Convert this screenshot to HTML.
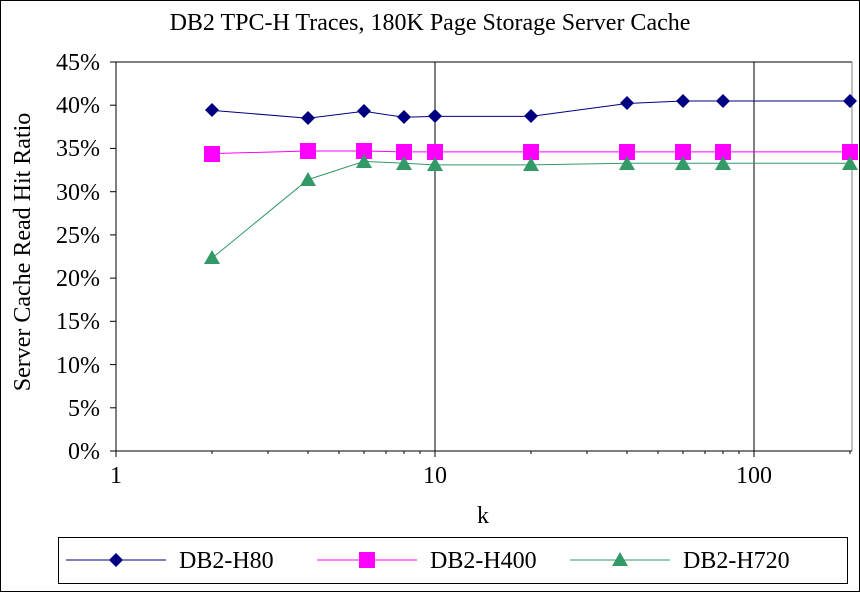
<!DOCTYPE html>
<html><head><style>body{margin:0;background:#fff}svg{display:block}</style></head><body>
<svg width="860" height="592" xmlns="http://www.w3.org/2000/svg" font-family="Liberation Serif, serif">
<rect x="0.5" y="0.5" width="859" height="591" fill="#fff" stroke="#000"/>
<text x="430" y="30" font-size="24" text-anchor="middle">DB2 TPC-H Traces, 180K Page Storage Server Cache</text>
<line x1="116" y1="62" x2="852" y2="62" stroke="#808080" stroke-width="2"/>
<line x1="852" y1="62" x2="852" y2="451" stroke="#808080" stroke-width="1"/>
<line x1="435" y1="62" x2="435" y2="451" stroke="#000"/>
<line x1="754" y1="62" x2="754" y2="451" stroke="#000"/>
<g stroke="#000">
<line x1="116" y1="62" x2="116" y2="452"/>
<line x1="110" y1="451" x2="852" y2="451"/>
<line x1="110" y1="62" x2="116" y2="62"/><line x1="110" y1="105.2" x2="116" y2="105.2"/><line x1="110" y1="148.4" x2="116" y2="148.4"/><line x1="110" y1="191.7" x2="116" y2="191.7"/><line x1="110" y1="234.9" x2="116" y2="234.9"/><line x1="110" y1="278.1" x2="116" y2="278.1"/><line x1="110" y1="321.3" x2="116" y2="321.3"/><line x1="110" y1="364.6" x2="116" y2="364.6"/><line x1="110" y1="407.8" x2="116" y2="407.8"/>
<line x1="116" y1="451" x2="116" y2="457"/><line x1="435" y1="451" x2="435" y2="457"/><line x1="754" y1="451" x2="754" y2="457"/>
<line x1="212" y1="451" x2="212" y2="454"/><line x1="268" y1="451" x2="268" y2="454"/><line x1="308" y1="451" x2="308" y2="454"/><line x1="339" y1="451" x2="339" y2="454"/><line x1="364" y1="451" x2="364" y2="454"/><line x1="386" y1="451" x2="386" y2="454"/><line x1="404" y1="451" x2="404" y2="454"/><line x1="420" y1="451" x2="420" y2="454"/>
<line x1="531" y1="451" x2="531" y2="454"/><line x1="587" y1="451" x2="587" y2="454"/><line x1="627" y1="451" x2="627" y2="454"/><line x1="658" y1="451" x2="658" y2="454"/><line x1="683" y1="451" x2="683" y2="454"/><line x1="705" y1="451" x2="705" y2="454"/><line x1="723" y1="451" x2="723" y2="454"/><line x1="739" y1="451" x2="739" y2="454"/><line x1="850" y1="451" x2="850" y2="454"/>
</g>
<g font-size="24" text-anchor="end">
<text x="100" y="70">45%</text><text x="100" y="113">40%</text><text x="100" y="156">35%</text><text x="100" y="200">30%</text><text x="100" y="243">25%</text><text x="100" y="286">20%</text><text x="100" y="329">15%</text><text x="100" y="373">10%</text><text x="100" y="416">5%</text><text x="100" y="459">0%</text>
</g>
<g font-size="24" text-anchor="middle">
<text x="116" y="483">1</text><text x="435" y="483">10</text><text x="754" y="483">100</text>
<text x="483" y="523">k</text>
</g>
<text transform="translate(30,252) rotate(-90)" font-size="24" text-anchor="middle">Server Cache Read Hit Ratio</text>
<polyline fill="none" stroke="#000080" points="212,110.4 308,118.2 364,111.3 404,117.3 435,116.4 531,116.4 627,103.5 683,101.0 723,101.0 850,101.0"/>
<polyline fill="none" stroke="#ff00ff" points="212,153.6 308,151.0 364,151.0 404,151.9 435,151.9 531,151.9 627,151.9 683,151.9 723,151.9 850,151.9"/>
<polyline fill="none" stroke="#339966" points="212,258.2 308,179.6 364,161.4 404,163.2 435,164.9 531,164.9 627,163.2 683,163.2 723,163.2 850,163.2"/>
<g fill="#000080">
<path d="M212,103 l7,7 -7,7 -7,-7z"/><path d="M308,111 l7,7 -7,7 -7,-7z"/><path d="M364,104 l7,7 -7,7 -7,-7z"/><path d="M404,110 l7,7 -7,7 -7,-7z"/><path d="M435,109 l7,7 -7,7 -7,-7z"/><path d="M531,109 l7,7 -7,7 -7,-7z"/><path d="M627,96 l7,7 -7,7 -7,-7z"/><path d="M683,94 l7,7 -7,7 -7,-7z"/><path d="M723,94 l7,7 -7,7 -7,-7z"/><path d="M850,94 l7,7 -7,7 -7,-7z"/>
</g>
<g fill="#ff00ff">
<rect x="204" y="146" width="16" height="16"/><rect x="300" y="143" width="16" height="16"/><rect x="356" y="143" width="16" height="16"/><rect x="396" y="144" width="16" height="16"/><rect x="427" y="144" width="16" height="16"/><rect x="523" y="144" width="16" height="16"/><rect x="619" y="144" width="16" height="16"/><rect x="675" y="144" width="16" height="16"/><rect x="715" y="144" width="16" height="16"/><rect x="842" y="144" width="16" height="16"/>
</g>
<g fill="#339966">
<path d="M212,250 l8,14 h-16z"/><path d="M308,172 l8,14 h-16z"/><path d="M364,154 l8,14 h-16z"/><path d="M404,156 l8,14 h-16z"/><path d="M435,157 l8,14 h-16z"/><path d="M531,157 l8,14 h-16z"/><path d="M627,156 l8,14 h-16z"/><path d="M683,156 l8,14 h-16z"/><path d="M723,156 l8,14 h-16z"/><path d="M850,156 l8,14 h-16z"/>
</g>
<rect x="58.5" y="537.5" width="789" height="46" fill="none" stroke="#000"/>
<line x1="66" y1="560" x2="166" y2="560" stroke="#000080"/><path d="M116,553 l7,7 -7,7 -7,-7z" fill="#000080"/>
<text x="179" y="568" font-size="24">DB2-H80</text>
<line x1="317" y1="560" x2="417" y2="560" stroke="#ff00ff"/><rect x="359" y="552" width="16" height="16" fill="#ff00ff"/>
<text x="430" y="568" font-size="24">DB2-H400</text>
<line x1="570" y1="560" x2="670" y2="560" stroke="#339966"/><path d="M620,552 l8,14 h-16z" fill="#339966"/>
<text x="683" y="568" font-size="24">DB2-H720</text>
</svg>
</body></html>
